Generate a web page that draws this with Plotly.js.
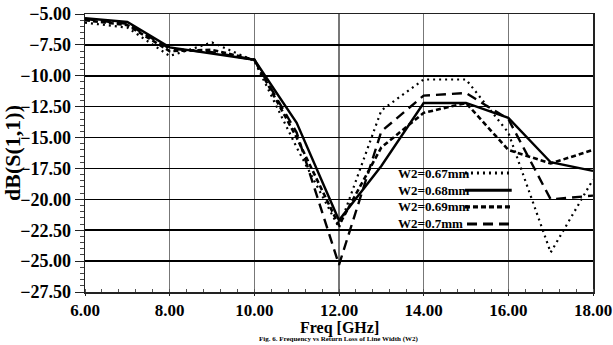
<!DOCTYPE html>
<html>
<head>
<meta charset="utf-8">
<script src="https://cdn.plot.ly/plotly-3.0.1.min.js"></script>
<style>
html,body{margin:0;padding:0;background:#fff;}
#chart{width:613px;height:345px;}
</style>
</head>
<body>
<div id="chart"></div>
<script>
// Frequency points (GHz)
const freq = [6, 7, 8, 9, 10, 11, 12, 13, 14, 15, 16, 17, 18];
// dB(S(1,1)) for each line width W2
const w067 = [-5.7, -6.1, -8.4, -7.3, -8.8, -15.8, -22.3, -12.8, -10.3, -10.3, -14.6, -24.3, -18.4];
const w068 = [-5.35, -5.65, -7.7, -8.2, -8.7, -13.8, -21.7, -17.3, -12.2, -12.2, -13.4, -17.0, -17.7];
const w069 = [-5.5, -5.9, -8.0, -7.9, -8.7, -15.0, -22.1, -15.8, -13.0, -12.2, -16.0, -17.1, -16.0];
const w070 = [-5.4, -5.8, -7.8, -8.1, -8.7, -14.6, -25.3, -14.5, -11.6, -11.4, -13.5, -20.0, -19.7];
const seriesNames = ['W2=0.67mm', 'W2=0.68mm', 'W2=0.69mm', 'W2=0.7mm'];
const xTicks = [6, 8, 10, 12, 14, 16, 18];
const yTicks = [-5, -7.5, -10, -12.5, -15, -17.5, -20, -22.5, -25, -27.5];

const FONT = "'Liberation Serif', 'Times New Roman', serif";
const styles = [
  {dash: '2px,4px', width: 2.2},
  {dash: 'solid', width: 2.4},
  {dash: '5px,3px', width: 2.6},
  {dash: '10px,6px', width: 2.4}
];
const ys = [w067, w068, w069, w070];

const traces = ys.map((y, i) => ({
  x: freq, y: y, type: 'scatter', mode: 'lines', name: seriesNames[i],
  line: {color: '#000', width: styles[i].width, dash: styles[i].dash},
  showlegend: false, hoverinfo: 'skip'
}));

// manual legend: text followed by line sample (as in the original)
const legRows = [0.428, 0.366, 0.306, 0.245];
const annotations = seriesNames.map((n, i) => ({
  xref: 'paper', yref: 'paper', x: 0.613, y: legRows[i], xanchor: 'left', yanchor: 'middle',
  text: n, showarrow: false, font: {family: FONT, size: 13, color: '#000', weight: 'bold'}
}));
const shapes = seriesNames.map((n, i) => ({
  type: 'line', xref: 'paper', yref: 'paper',
  x0: i === 3 ? 0.752 : 0.748, x1: 0.84, y0: legRows[i], y1: legRows[i],
  line: {color: '#000', width: styles[i].width + 0.6, dash: styles[i].dash}
}));
// x-axis title (placed as annotation to sit just under the tick labels)
annotations.push({
  xref: 'paper', yref: 'paper', x: 0.5, y: -0.128, xanchor: 'center', yanchor: 'middle',
  text: 'Freq [GHz]', showarrow: false,
  font: {family: FONT, size: 16, color: '#000', weight: 'bold'}
});
annotations.push({
  xref: 'paper', yref: 'paper', x: 0.5, y: -0.192, xanchor: 'center', yanchor: 'bottom',
  text: 'Fig. 6. Frequency vs Return Loss of Line Width (W2)', showarrow: false,
  font: {family: FONT, size: 7, color: '#000', weight: 'bold'}
});

const layout = {
  width: 613, height: 345,
  margin: {l: 85, r: 20, t: 14, b: 53},
  paper_bgcolor: '#fff', plot_bgcolor: '#fff',
  font: {family: FONT, color: '#000'},
  xaxis: {
    range: [6, 18], tickvals: xTicks, tickformat: '.2f',
    ticklabeloverflow: 'allow',
    showgrid: true, gridcolor: '#777', gridwidth: 1.5,
    showline: true, linecolor: '#222', linewidth: 1.5, mirror: true,
    ticks: 'outside', ticklen: 2, tickcolor: '#222',
    minor: {dtick: 0.4, ticks: 'inside', ticklen: 3, tickcolor: '#555', showgrid: false},
    tickfont: {family: FONT, size: 17, color: '#000', weight: 'bold'},
    zeroline: false, fixedrange: true
  },
  yaxis: {
    range: [-27.5, -5], tickvals: yTicks, tickformat: '.2f',
    showgrid: true, gridcolor: '#000', gridwidth: 1.5,
    showline: true, linecolor: '#222', linewidth: 1.5, mirror: true,
    ticks: 'outside', ticklen: 9, tickcolor: '#222',
    minor: {dtick: 0.5, ticks: 'outside', ticklen: 4, tickcolor: '#444', showgrid: false},
    tickfont: {family: FONT, size: 18, color: '#000', weight: 'bold'},
    title: {text: 'dB(S(1,1))', font: {family: FONT, size: 22, color: '#000', weight: 'bold'}, standoff: 4},
    zeroline: false, fixedrange: true
  },
  annotations: annotations,
  shapes: shapes
};

Plotly.newPlot('chart', traces, layout, {displayModeBar: false, staticPlot: true});
</script>
</body>
</html>
